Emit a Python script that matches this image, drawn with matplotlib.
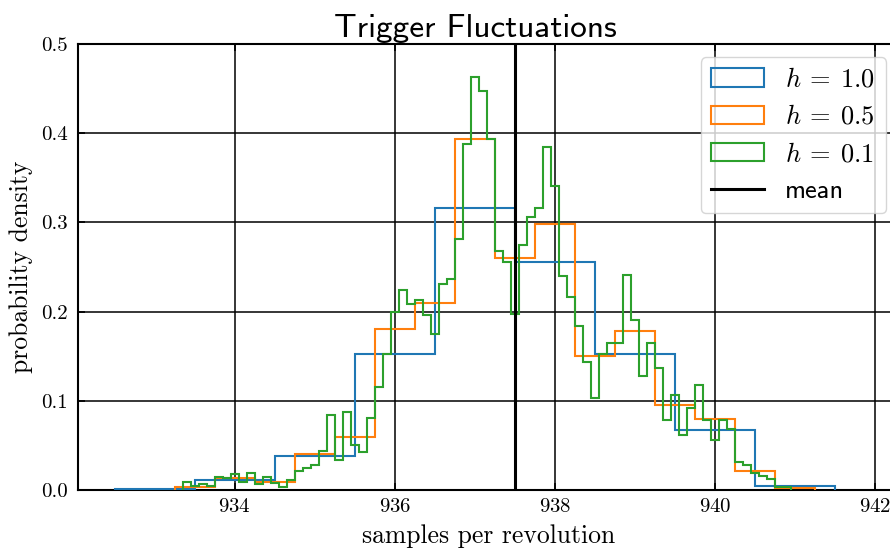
import numpy as np
import matplotlib
matplotlib.use("Agg")
import matplotlib.pyplot as plt

plt.rcParams['font.family'] = ['cmr10', 'DejaVu Sans']
plt.rcParams['mathtext.fontset'] = 'cm'
plt.rcParams['axes.formatter.use_mathtext'] = True

# h = 1.0 histogram (density per bin)
h1_start = 932.5
h1_width = 1.0
h1_density = [0.0015, 0.011, 0.038, 0.153, 0.316, 0.256, 0.153, 0.067, 0.0042]

# h = 0.5 histogram
h05_start = 933.25
h05_width = 0.5
h05_density = [0.0037, 0.014, 0.0085, 0.040, 0.059, 0.180, 0.210, 0.394,
               0.260, 0.298, 0.150, 0.178, 0.095, 0.080, 0.0217, 0.002]

# h = 0.1 histogram
h01_start = 933.35
h01_width = 0.1
h01_density = [0.0086, 0.004, 0.0064, 0.004, 0.015, 0.013, 0.0176, 0.0093,
               0.0187, 0.0064, 0.015, 0.0082, 0.0037, 0.011, 0.0217, 0.025,
               0.0284, 0.0433, 0.084, 0.034, 0.087, 0.050, 0.043, 0.081,
               0.115, 0.153, 0.200, 0.224, 0.209, 0.213, 0.196, 0.175,
               0.231, 0.237, 0.281, 0.388, 0.463, 0.447, 0.393, 0.268,
               0.256, 0.197, 0.275, 0.306, 0.316, 0.385, 0.341, 0.240,
               0.216, 0.184, 0.144, 0.103, 0.153, 0.165, 0.165, 0.241,
               0.191, 0.128, 0.165, 0.137, 0.078, 0.106, 0.062, 0.092,
               0.118, 0.078, 0.056, 0.078, 0.068, 0.031, 0.028, 0.0187,
               0.0155, 0.012, 0.003, 0.003]

mean_value = 937.5

series = [
    (h1_start, h1_width, h1_density, r'$h\:=\:1.0$', '#1f77b4'),
    (h05_start, h05_width, h05_density, r'$h\:=\:0.5$', '#ff7f0e'),
    (h01_start, h01_width, h01_density, r'$h\:=\:0.1$', '#2ca02c'),
]

xticks = [934, 936, 938, 940, 942]
yticks = [0.0, 0.1, 0.2, 0.3, 0.4, 0.5]

fig = plt.figure(figsize=(8.9, 5.54), dpi=100)
ax = fig.add_axes([0.0876, 0.1155, 0.9225, 0.805])

for start, width, dens, label, color in series:
    n = len(dens)
    edges = start + width * np.arange(n + 1)
    centers = edges[:-1] + width / 2
    ax.hist(centers, bins=edges, weights=dens, histtype='step',
            color=color, linewidth=1.5, label=label, zorder=3)

ax.axvline(mean_value, color='black', linewidth=2.2, label='mean', zorder=4)

ax.set_xlim(932.04, 942.30)
ax.set_ylim(0, 0.5)
ax.set_xticks(xticks)
ax.set_yticks(yticks)
ax.set_yticklabels([f'{v:.1f}' for v in yticks])
ax.tick_params(direction='in', labelsize=15, top=True, right=True, width=1.2, length=5)
ax.tick_params(axis='x', pad=6)
ax.tick_params(axis='y', pad=7)
ax.grid(True, color='black', linewidth=1.1)
ax.set_axisbelow(True)
for s in ax.spines.values():
    s.set_linewidth(1.5)
    s.set_color('black')

ax.set_xlabel('samples per revolution', fontsize=18.5, labelpad=6)
ax.set_ylabel('probability density', fontsize=18.5, labelpad=6)
ttl = ax.set_title('Trigger Fluctuations', fontsize=24, family=['cmss10', 'DejaVu Sans'], pad=5)
ttl.set_x(0.484)

leg = ax.legend(loc='upper right', prop={'family': ['cmss10', 'DejaVu Sans'], 'size': 19},
                framealpha=0.8, fancybox=True)

fig.savefig('out.png', dpi=100)
